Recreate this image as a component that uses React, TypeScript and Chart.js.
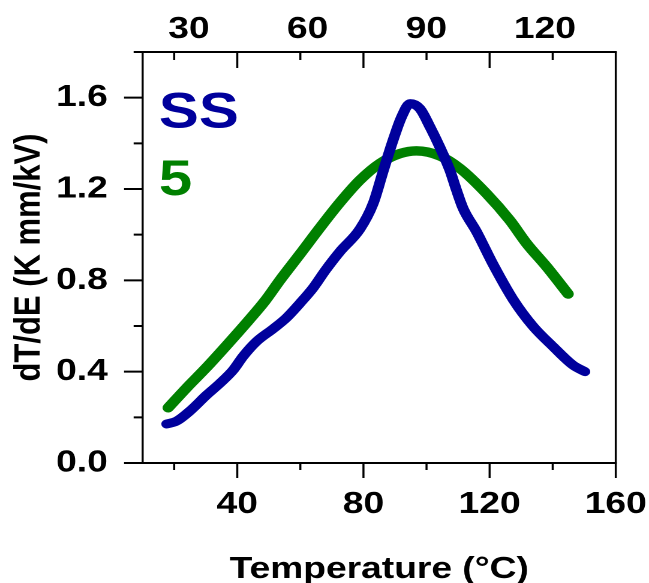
import React, { useEffect, useRef } from "react";
import { Chart, registerables } from "chart.js";

Chart.register(...registerables);

// SS curve: temperature (°C) and dT/dE (K mm/kV)
const tempSS = [17.6, 20.7, 25.0, 30.3, 34.5, 38.7, 41.9, 46.1, 51.4, 55.6, 59.9, 64.1, 68.0, 72.5, 78.9, 83.1, 86.3, 89.4, 92.1, 94.8, 97.9, 101.1, 104.2, 107.4, 109.5, 111.6, 115.9, 121.1, 127.5, 133.8, 140.1, 146.5, 150.2];
const dtdeSS = [0.171, 0.183, 0.228, 0.298, 0.349, 0.407, 0.468, 0.532, 0.588, 0.636, 0.7, 0.768, 0.845, 0.925, 1.025, 1.137, 1.28, 1.414, 1.516, 1.574, 1.552, 1.472, 1.384, 1.282, 1.195, 1.115, 1.012, 0.87, 0.715, 0.598, 0.51, 0.428, 0.4];

// Sample 5 curve
const temp5 = [18.1, 24.0, 30.0, 36.8, 43.7, 48.8, 53.5, 59.9, 66.2, 72.5, 78.9, 85.2, 91.6, 96.8, 104.2, 110.6, 119.0, 126.4, 131.7, 138.1, 144.9];
const dtde5 = [0.242, 0.33, 0.415, 0.518, 0.626, 0.71, 0.8, 0.915, 1.03, 1.14, 1.239, 1.312, 1.355, 1.367, 1.345, 1.29, 1.18, 1.063, 0.962, 0.859, 0.74];

// Axis ticks
const xMajorTicks = [40, 80, 120, 160];
const xMinorTicks = [20, 60, 100, 140];
const yMajorTicks = [0, 0.4, 0.8, 1.2, 1.6];
const yMinorTicks = [0.2, 0.6, 1.0, 1.4, 1.8];
const topTickLabels = [30, 60, 90, 120];

const seriesNames = ["SS", "5"];
const seriesColors = ["#00009c", "#008000"];

const FONT = "'Liberation Sans', Arial, Helvetica, sans-serif";

// The figure is drawn on a narrower canvas and widened by CSS
const VIEW_W = 649;
const VIEW_H = 583;
const STRETCH = 1.2;
const CANVAS_W = Math.round(VIEW_W / STRETCH);

const isMajor = (v: number, list: number[]) => list.some((m) => Math.abs(m - v) < 1e-6);

const framePlugin = {
  id: "frame",
  afterDraw(chart: any) {
    const { ctx, chartArea } = chart;
    const { left, right, top, bottom } = chartArea;
    const xs = chart.scales.x;
    const ys = chart.scales.y;
    const hw = 2; // thickness of horizontal strokes
    const vw = 1.7; // thickness of vertical strokes
    ctx.save();
    ctx.strokeStyle = "#000";
    ctx.lineCap = "butt";

    // horizontal strokes: top & bottom borders, y ticks
    ctx.lineWidth = hw;
    ctx.beginPath();
    ctx.moveTo(left - vw / 2, top);
    ctx.lineTo(right + vw / 2, top);
    ctx.moveTo(left - vw / 2, bottom);
    ctx.lineTo(right + vw / 2, bottom);
    for (const v of [...yMajorTicks, ...yMinorTicks]) {
      const py = ys.getPixelForValue(v);
      const len = isMajor(v, yMajorTicks) ? 15.5 : 7.5;
      ctx.moveTo(left - len, py);
      ctx.lineTo(left, py);
    }
    ctx.stroke();

    // vertical strokes: left & right borders, x ticks (bottom outward, top inward)
    ctx.lineWidth = vw;
    ctx.beginPath();
    ctx.moveTo(left, top);
    ctx.lineTo(left, bottom);
    ctx.moveTo(right, top);
    ctx.lineTo(right, bottom);
    for (const v of [...xMajorTicks, ...xMinorTicks]) {
      const px = xs.getPixelForValue(v);
      const major = isMajor(v, xMajorTicks);
      ctx.moveTo(px, bottom);
      ctx.lineTo(px, bottom + (major ? 15 : 7));
      ctx.moveTo(px, top);
      ctx.lineTo(px, top + (major ? 16 : 8));
    }
    ctx.stroke();
    ctx.restore();
  },
};

// Series names written inside the plot in each series' colour
const namesPlugin = {
  id: "seriesNames",
  afterDraw(chart: any) {
    const { ctx, chartArea } = chart;
    ctx.save();
    ctx.font = `bold 50px ${FONT}`;
    ctx.textAlign = "left";
    ctx.textBaseline = "alphabetic";
    chart.data.datasets.forEach((ds: any, i: number) => {
      ctx.fillStyle = ds.borderColor;
      ctx.fillText(ds.label, chartArea.left + 13.5, chartArea.top + 75.5 + i * 67.5);
    });
    ctx.restore();
  },
};

const tickFont = { family: FONT, size: 31, weight: "bold" as const };

export default function App() {
  const canvasRef = useRef<HTMLCanvasElement | null>(null);

  useEffect(() => {
    const canvas = canvasRef.current;
    if (!canvas) return;

    const toPoints = (xs: number[], ys: number[]) => xs.map((x, i) => ({ x, y: ys[i] }));

    const chart = new Chart(canvas, {
      type: "line",
      data: {
        datasets: [
          {
            label: seriesNames[0],
            data: toPoints(tempSS, dtdeSS),
            borderColor: seriesColors[0],
            borderWidth: 9,
            pointRadius: 0,
            cubicInterpolationMode: "monotone",
            borderCapStyle: "round",
            borderJoinStyle: "round",
          },
          {
            label: seriesNames[1],
            data: toPoints(temp5, dtde5),
            borderColor: seriesColors[1],
            borderWidth: 9.5,
            pointRadius: 0,
            cubicInterpolationMode: "monotone",
            borderCapStyle: "round",
            borderJoinStyle: "round",
          },
        ],
      },
      options: {
        animation: false,
        responsive: false,
        devicePixelRatio: 2,
        layout: { padding: { left: 0, right: CANVAS_W - 513.3, top: 0, bottom: 0 } },
        plugins: {
          legend: { display: false },
          tooltip: { enabled: false },
        },
        scales: {
          x: {
            type: "linear",
            position: "bottom",
            min: 10,
            max: 160,
            afterBuildTicks: (s: any) => {
              s.ticks = [...xMinorTicks, ...xMajorTicks].sort((a, b) => a - b).map((value) => ({ value }));
            },
            afterFit: (s: any) => {
              s.height = VIEW_H - 463;
              s.paddingLeft = 0;
              s.paddingRight = 0;
            },
            ticks: {
              autoSkip: false,
              maxRotation: 0,
              padding: 23,
              color: "#000",
              font: tickFont,
              callback: (v: any) => (isMajor(Number(v), xMajorTicks) ? String(v) : ""),
            },
            grid: { display: false, drawTicks: false },
            border: { display: false },
            title: {
              display: true,
              text: "Temperature (°C)",
              color: "#000",
              font: { family: FONT, size: 31, weight: "bold", lineHeight: 1 },
              padding: { top: 0, bottom: -2 },
            },
          },
          x2: {
            type: "linear",
            axis: "x",
            position: "top",
            min: 18.3,
            max: 137.9,
            afterBuildTicks: (s: any) => {
              s.ticks = topTickLabels.map((value) => ({ value }));
            },
            afterFit: (s: any) => {
              s.height = 52;
              s.paddingLeft = 0;
              s.paddingRight = 0;
            },
            ticks: {
              autoSkip: false,
              maxRotation: 0,
              padding: 4,
              color: "#000",
              font: tickFont,
            },
            grid: { display: false, drawTicks: false },
            border: { display: false },
          },
          y: {
            type: "linear",
            position: "left",
            min: 0,
            max: 1.8,
            afterBuildTicks: (s: any) => {
              s.ticks = [...yMajorTicks, ...yMinorTicks].sort((a, b) => a - b).map((value) => ({ value }));
            },
            afterFit: (s: any) => {
              s.width = 118.9;
              s.paddingTop = 0;
              s.paddingBottom = 0;
            },
            ticks: {
              autoSkip: false,
              padding: 29,
              color: "#000",
              font: tickFont,
              callback: (v: any) => (isMajor(Number(v), yMajorTicks) ? Number(v).toFixed(1) : ""),
            },
            grid: { display: false, drawTicks: false },
            border: { display: false },
            title: {
              display: true,
              text: "dT/dE (K mm/kV)",
              color: "#000",
              font: { family: FONT, size: 31, weight: "bold" },
              padding: { top: 6, bottom: 0 },
            },
          },
        },
      },
      plugins: [framePlugin, namesPlugin],
    } as any);

    return () => chart.destroy();
  }, []);

  return (
    <div
      style={{
        position: "fixed",
        left: 0,
        top: 0,
        width: VIEW_W,
        height: VIEW_H,
        background: "#fff",
        overflow: "hidden",
      }}
    >
      <canvas
        ref={canvasRef}
        width={CANVAS_W}
        height={VIEW_H}
        style={{ width: `${VIEW_W}px`, height: `${VIEW_H}px`, display: "block" }}
      />
    </div>
  );
}
